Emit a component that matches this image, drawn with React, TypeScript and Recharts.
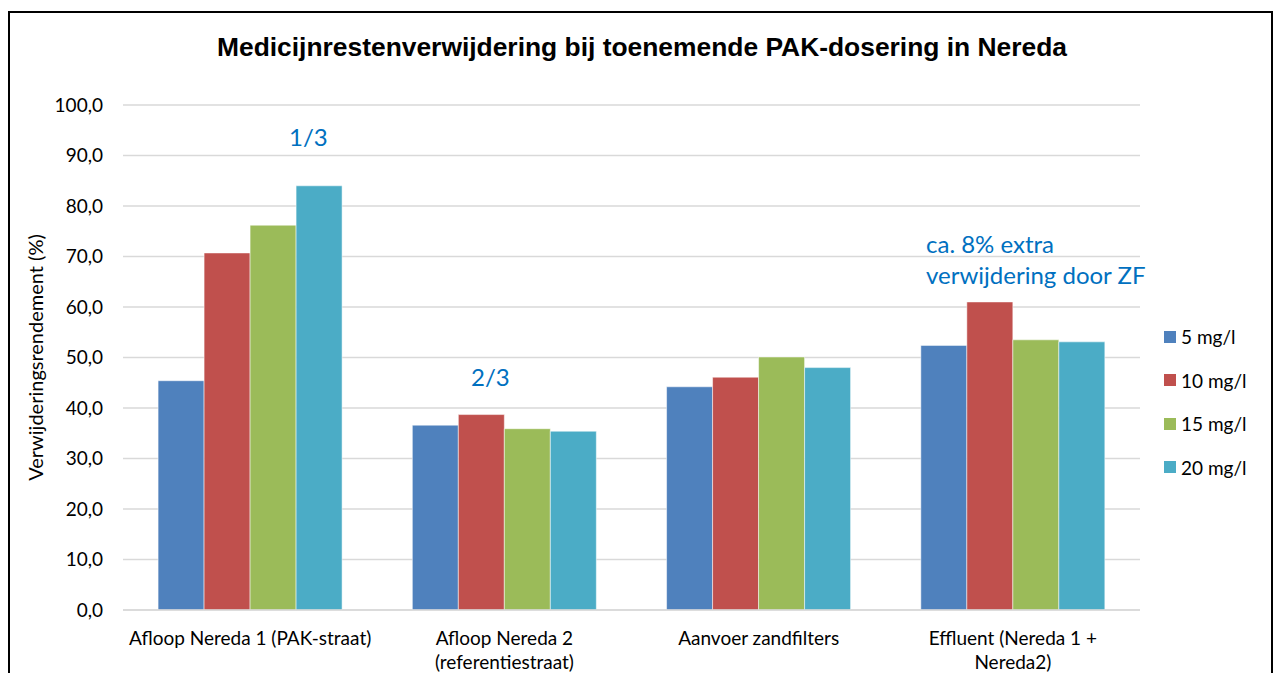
import React from 'react';
import { BarChart, Bar, XAxis, YAxis, CartesianGrid } from 'recharts';

const categories = [
  'Afloop Nereda 1 (PAK-straat)',
  'Afloop Nereda 2\n(referentiestraat)',
  'Aanvoer zandfilters',
  'Effluent (Nereda 1 +\nNereda2)',
];
const s5 = [45.4, 36.6, 44.2, 52.4];
const s10 = [70.7, 38.7, 46.1, 61.0];
const s15 = [76.2, 35.9, 50.1, 53.5];
const s20 = [84.0, 35.4, 48.0, 53.1];
const yTicks = [0, 10, 20, 30, 40, 50, 60, 70, 80, 90, 100];

const series = [
  { key: 's5', name: '5 mg/l', color: '#4F81BD', values: s5 },
  { key: 's10', name: '10 mg/l', color: '#C0504D', values: s10 },
  { key: 's15', name: '15 mg/l', color: '#9BBB59', values: s15 },
  { key: 's20', name: '20 mg/l', color: '#4BACC6', values: s20 },
];

const data = categories.map((c, i) => {
  const row: any = { name: c };
  series.forEach((s) => (row[s.key] = s.values[i]));
  return row;
});

const FONT = 'Lato, "Open Sans", sans-serif';

const XTick = (props: any) => {
  const { x, y, payload } = props;
  const lines = String(payload.value).split('\n');
  return (
    <g transform={`translate(${x},${y})`}>
      {lines.map((l, i) => (
        <text key={i} x={0} y={i * 24} dy={27} textAnchor="middle" fill="#000" fontSize={19} fontFamily={FONT}>
          {l}
        </text>
      ))}
    </g>
  );
};

const annStyle: React.CSSProperties = {
  position: 'absolute',
  color: '#0070C0',
  fontSize: 24,
  fontFamily: FONT,
  lineHeight: '31px',
  whiteSpace: 'nowrap',
};

export default function App() {
  return (
    <div style={{ position: 'absolute', left: 0, top: 0, width: 1274, height: 673, overflow: 'hidden', background: '#fff', fontFamily: FONT }}>
      <div style={{ position: 'absolute', left: 8, top: 11, width: 1265, height: 720, border: '2px solid #000', boxSizing: 'border-box' }} />
      <div style={{ position: 'absolute', left: 0, top: 32, width: 1284, textAlign: 'center', fontFamily: '"Liberation Sans", Arial, sans-serif', fontWeight: 'bold', fontSize: 26.4, color: '#000' }}>
        Medicijnrestenverwijdering bij toenemende PAK-dosering in Nereda
      </div>
      <div style={{ position: 'absolute', left: 0, top: 0 }}>
        <BarChart width={1274} height={673} data={data} margin={{ top: 105, right: 134, bottom: 0, left: 10 }} barCategoryGap="13.8%" barGap={0}>
          <CartesianGrid vertical={false} stroke="#D9D9D9" strokeWidth={1.5} />
          <XAxis dataKey="name" tick={<XTick />} tickLine={false} axisLine={{ stroke: '#D9D9D9', strokeWidth: 1.5 }} interval={0} height={63} />
          <YAxis
            domain={[0, 100]}
            ticks={yTicks}
            width={113}
            tickLine={false}
            axisLine={false}
            tickSize={0}
            tickMargin={20}
            tick={{ fill: '#000', fontSize: 19, fontFamily: FONT }}
            tickFormatter={(v: number) => v.toFixed(1).replace('.', ',')}
            label={{ value: 'Verwijderingsrendement (%)', angle: -90, position: 'insideLeft', offset: 26, style: { fill: '#000', fontSize: 20, fontFamily: FONT, textAnchor: 'middle' } }}
          />
          {series.map((s) => (
            <Bar key={s.key} dataKey={s.key} name={s.name} fill={s.color} stroke="#ffffff" strokeOpacity={0.5} strokeWidth={1} isAnimationActive={false} />
          ))}
        </BarChart>
      </div>
      <div style={{ ...annStyle, left: 289, top: 121 }}>1/3</div>
      <div style={{ ...annStyle, left: 471, top: 361 }}>2/3</div>
      <div style={{ ...annStyle, left: 926, top: 228 }}>
        ca. 8% extra
        <br />
        verwijdering door ZF
      </div>
      <div style={{ position: 'absolute', left: 1164, top: 315 }}>
        {series.map((s) => (
          <div key={s.key} style={{ display: 'flex', alignItems: 'center', height: 43.5, fontSize: 19, fontFamily: FONT, color: '#000' }}>
            <span style={{ display: 'inline-block', width: 12, height: 12, background: s.color, marginRight: 5 }} />
            {s.name}
          </div>
        ))}
      </div>
    </div>
  );
}
